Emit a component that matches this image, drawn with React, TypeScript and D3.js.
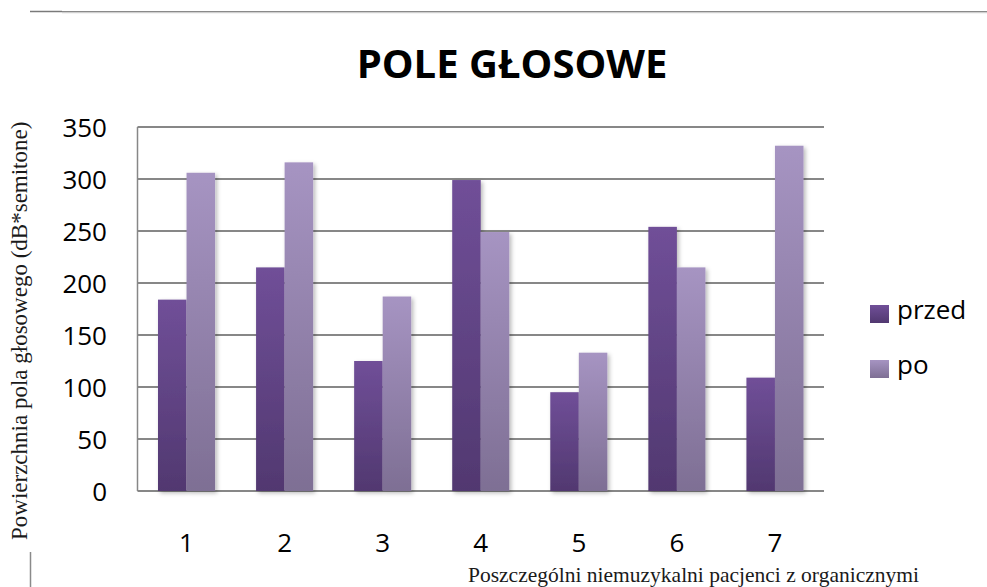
import React from "react";
import * as d3 from "d3";

// Patients 1–7, voice-field area before and after
const categories = ["1", "2", "3", "4", "5", "6", "7"];
const seriesNames = ["przed", "po"];
const przed = [184, 215, 125, 299, 95, 254, 109];
const po = [306, 316, 187, 249, 133, 215, 332];
const yTicks = [0, 50, 100, 150, 200, 250, 300, 350];

const chartTitle = "POLE GŁOSOWE";
const yAxisTitle = "Powierzchnia pola głosowego (dB*semitone)";
const xAxisTitle = "Poszczególni niemuzykalni pacjenci z organicznymi";

const W = 987;
const H = 587;
const plot = { left: 137.5, right: 824, top: 127, bottom: 491 };
const sans = "'Open Sans', 'DejaVu Sans', sans-serif";
const serif = "'Liberation Serif', 'DejaVu Serif', serif";

const gradients: Record<string, [string, string]> = {
  przed: ["#704f98", "#513870"],
  po: ["#a694c2", "#7e6f94"],
};

export default function App() {
  const values: Record<string, number[]> = { przed, po };

  const x0 = d3
    .scaleBand<string>()
    .domain(categories)
    .range([plot.left, plot.right])
    .paddingInner(0.418)
    .paddingOuter(0.209);
  const x1 = d3
    .scaleBand<string>()
    .domain(seriesNames)
    .range([0, x0.bandwidth()]);
  const y = d3.scaleLinear().domain([0, 350]).range([plot.bottom, plot.top]);

  return (
    <svg
      width={W}
      height={H}
      viewBox={`0 0 ${W} ${H}`}
      style={{ position: "absolute", left: 0, top: 0, background: "#fff" }}
    >
      <defs>
        {seriesNames.map((s) => (
          <linearGradient key={s} id={`grad-${s}`} x1="0" y1="0" x2="0" y2="1">
            <stop offset="0%" stopColor={gradients[s][0]} />
            <stop offset="100%" stopColor={gradients[s][1]} />
          </linearGradient>
        ))}
        <filter id="barShadow" x="-30%" y="-10%" width="160%" height="130%">
          <feDropShadow dx="2" dy="2" stdDeviation="2.2" floodColor="#000" floodOpacity="0.28" />
        </filter>
      </defs>

      {/* page rules */}
      <line x1={30} x2={62} y1={11.5} y2={11.5} stroke="#7a7a7a" strokeWidth={1.5} />
      <line x1={62} x2={W} y1={11.5} y2={11.5} stroke="#8a8a8a" strokeWidth={1.2} />
      <line x1={62} x2={W} y1={12.7} y2={12.7} stroke="#c4c4c4" strokeWidth={1} />
      <line x1={30.5} x2={30.5} y1={552} y2={H} stroke="#8a8a8a" strokeWidth={1.5} />

      {/* title */}
      <text
        x={512}
        y={78}
        textAnchor="middle"
        fontFamily={sans}
        fontWeight={700}
        fontSize={40}
        fill="#000"
      >
        {chartTitle}
      </text>

      {/* gridlines */}
      {yTicks.map((t) => (
        <line
          key={t}
          x1={plot.left}
          x2={plot.right}
          y1={y(t)}
          y2={y(t)}
          stroke="#878787"
          strokeWidth={1.8}
        />
      ))}
      <line
        x1={plot.left}
        x2={plot.left}
        y1={plot.top}
        y2={plot.bottom}
        stroke="#878787"
        strokeWidth={1.5}
      />

      {/* y tick labels */}
      {yTicks.map((t) => (
        <text
          key={t}
          x={107}
          y={y(t) + 9.5}
          textAnchor="end"
          fontFamily={sans}
          fontSize={26}
          fill="#000"
        >
          {t}
        </text>
      ))}

      {/* bars */}
      <g filter="url(#barShadow)">
        {categories.map((c, i) =>
          seriesNames.map((s) => {
            const v = values[s][i];
            const bx = (x0(c) ?? 0) + (x1(s) ?? 0);
            return (
              <rect
                key={`${c}-${s}`}
                x={bx}
                y={y(v)}
                width={x1.bandwidth()}
                height={y(0) - y(v)}
                fill={`url(#grad-${s})`}
              />
            );
          })
        )}
      </g>

      {/* x labels */}
      {categories.map((c) => (
        <text
          key={c}
          x={(x0(c) ?? 0) + x0.bandwidth() / 2}
          y={552}
          textAnchor="middle"
          fontFamily={sans}
          fontSize={26}
          fill="#000"
        >
          {c}
        </text>
      ))}

      {/* legend */}
      {seriesNames.map((s, i) => (
        <g key={s} transform={`translate(870, ${305 + i * 55})`}>
          <rect x={0} y={0} width={19} height={18} fill={`url(#grad-${s})`} />
          <text x={27} y={14} fontFamily={sans} fontSize={26} fill="#000">
            {s}
          </text>
        </g>
      ))}

      {/* axis titles */}
      <text
        transform={`translate(27, 540) rotate(-90)`}
        fontFamily={serif}
        fontSize={23}
        fill="#1a1a1a"
      >
        {yAxisTitle}
      </text>
      <text x={468} y={582} fontFamily={serif} fontSize={21.5} fill="#1a1a1a">
        {xAxisTitle}
      </text>
    </svg>
  );
}
